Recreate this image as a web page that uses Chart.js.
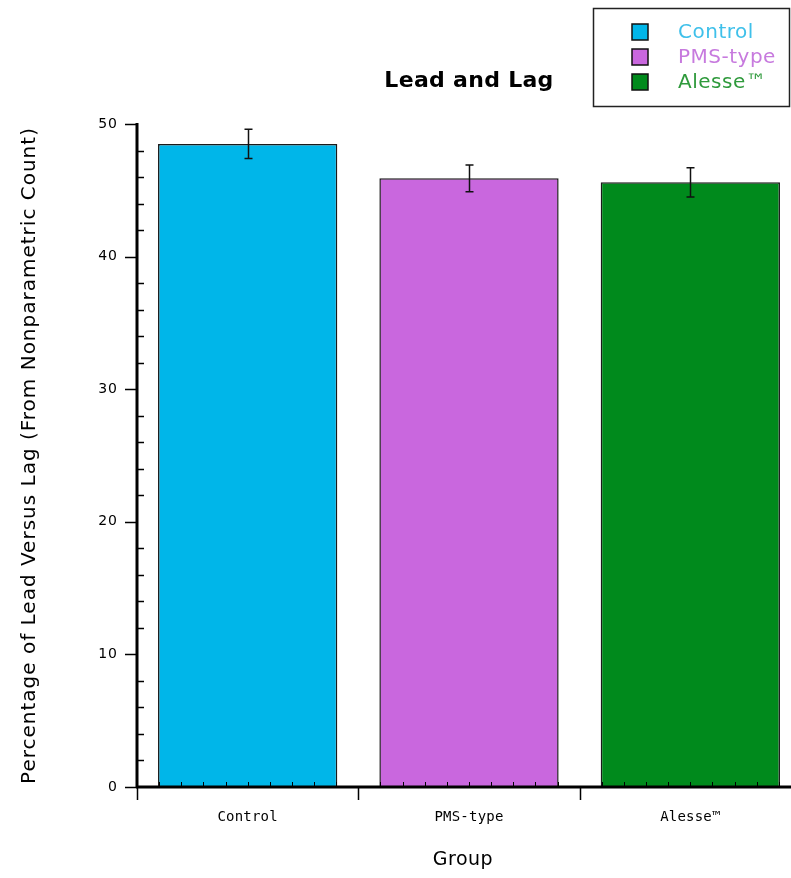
<!DOCTYPE html>
<html>
<head>
<meta charset="utf-8">
<script src="https://cdn.jsdelivr.net/npm/chart.js@4"></script>
<style>
  html, body { margin: 0; padding: 0; background: #fff; overflow: hidden; }
  #wrap { width: 805px; height: 878px; position: relative; }
</style>
</head>
<body>
<div id="wrap"><canvas id="c" width="805" height="878"></canvas></div>
<script>
// Group means with standard-error half widths
const groups = ['Control', 'PMS-type', 'Alesse\u2122'];
const means = [48.5, 45.9, 45.6];
const errors = [1.1, 1.0, 1.1];
const yTicks = [0, 10, 20, 30, 40, 50];
const barColors = ['#00b6e9', '#c967de', '#008a1c'];
const legendTextColors = ['#3fc0ea', '#c77ade', '#2f9a3c'];

const chartTitle = 'Lead and Lag';
const xTitle = 'Group';
const yTitle = 'Percentage of Lead Versus Lag (From Nonparametric Count)';

const axisPlugin = {
  id: 'classicAxes',
  afterDatasetsDraw(chart) {
    const ctx = chart.ctx;
    const x = chart.scales.x, y = chart.scales.y;
    const area = chart.chartArea;
    const y0 = y.getPixelForValue(0);
    ctx.save();

    // error bars
    const meta = chart.getDatasetMeta(0);
    ctx.strokeStyle = '#111';
    ctx.lineWidth = 1.5;
    meta.data.forEach((bar, i) => {
      const cx = Math.round(bar.x) + 0.5;
      const hi = y.getPixelForValue(means[i] + errors[i]);
      const lo = y.getPixelForValue(means[i] - errors[i]);
      ctx.beginPath();
      ctx.moveTo(cx, hi); ctx.lineTo(cx, lo);
      ctx.moveTo(cx - 4, hi); ctx.lineTo(cx + 4, hi);
      ctx.moveTo(cx - 4, lo); ctx.lineTo(cx + 4, lo);
      ctx.stroke();
    });

    // y axis line with major ticks outside, minor ticks inside
    ctx.strokeStyle = '#000';
    ctx.lineWidth = 3;
    ctx.beginPath();
    ctx.moveTo(area.left, y.getPixelForValue(50) - 1);
    ctx.lineTo(area.left, y0 + 1);
    ctx.stroke();
    ctx.lineWidth = 1.5;
    ctx.beginPath();
    for (let v = 0; v <= 50; v += 2) {
      const py = Math.round(y.getPixelForValue(v)) + 0.5;
      if (v % 10 === 0) {
        ctx.moveTo(area.left - 12, py); ctx.lineTo(area.left, py);
      } else {
        ctx.moveTo(area.left, py); ctx.lineTo(area.left + 7, py);
      }
    }
    ctx.stroke();

    // y tick labels
    ctx.fillStyle = '#000';
    ctx.font = '14px "DejaVu Sans"';
    ctx.letterSpacing = '1px';
    ctx.textAlign = 'right';
    ctx.textBaseline = 'middle';
    yTicks.forEach(v => {
      ctx.fillText(String(v), area.left - 19, y.getPixelForValue(v));
    });

    // x axis line
    ctx.lineWidth = 3;
    ctx.beginPath();
    ctx.moveTo(area.left - 1, y0);
    ctx.lineTo(area.right + 4, y0);
    ctx.stroke();

    // category boundary ticks (down) and minor ticks (up)
    const step = (x.getPixelForValue(1) - x.getPixelForValue(0));
    ctx.lineWidth = 1.5;
    ctx.beginPath();
    for (let i = 0; i <= groups.length; i++) {
      const bx = Math.round(x.getPixelForValue(i) - step / 2) + 0.5;
      ctx.moveTo(bx, y0); ctx.lineTo(bx, y0 + 13);
    }
    ctx.stroke();
    ctx.lineWidth = 1;
    ctx.beginPath();
    for (let i = 0; i < groups.length; i++) {
      const start = x.getPixelForValue(i) - step / 2;
      for (let k = 1; k < 10; k++) {
        const mx = Math.round(start + k * step / 10) + 0.5;
        ctx.moveTo(mx, y0); ctx.lineTo(mx, y0 - 5);
      }
    }
    ctx.stroke();

    // category labels
    ctx.font = '14px "DejaVu Sans Mono"';
    ctx.letterSpacing = '0.2px';
    ctx.textAlign = 'center';
    ctx.textBaseline = 'middle';
    groups.forEach((g, i) => {
      ctx.fillText(g, x.getPixelForValue(i), y0 + 30);
    });

    // axis titles
    ctx.font = '19px "DejaVu Sans"';
    ctx.letterSpacing = '0.5px';
    ctx.fillText(xTitle, (area.left + area.right) / 2 - 6, 860);
    ctx.save();
    ctx.translate(30, (area.top + area.bottom) / 2);
    ctx.rotate(-Math.PI / 2);
    ctx.font = '20px "DejaVu Sans"';
    ctx.letterSpacing = '1px';
    ctx.fillText(yTitle, 0, 0);
    ctx.restore();

    // chart title
    ctx.font = 'bold 22px "DejaVu Sans"';
    ctx.letterSpacing = '0.3px';
    ctx.fillText(chartTitle, (area.left + area.right) / 2, 81);

    // legend box
    ctx.lineWidth = 1.5;
    ctx.strokeStyle = '#222';
    ctx.strokeRect(593.5, 8.5, 196, 98);
    ctx.textAlign = 'left';
    ctx.font = '20px "DejaVu Sans"';
    ctx.letterSpacing = '0.5px';
    groups.forEach((g, i) => {
      const cy = 32 + i * 25;
      ctx.fillStyle = barColors[i];
      ctx.fillRect(632, cy - 8, 16, 16);
      ctx.strokeStyle = '#111';
      ctx.lineWidth = 1.5;
      ctx.strokeRect(632, cy - 8, 16, 16);
      ctx.fillStyle = legendTextColors[i];
      ctx.fillText(g, 678, cy + 1);
    });

    ctx.restore();
  }
};

new Chart(document.getElementById('c'), {
  type: 'bar',
  data: {
    labels: groups,
    datasets: [{
      data: means,
      backgroundColor: barColors,
      borderColor: '#1a1a1a',
      borderWidth: 1.5,
      borderSkipped: 'bottom',
      categoryPercentage: 1.0,
      barPercentage: 0.81
    }]
  },
  options: {
    responsive: false,
    animation: false,
    layout: { padding: { left: 137, right: 4, top: 124, bottom: 91 } },
    plugins: { legend: { display: false }, title: { display: false }, tooltip: { enabled: false } },
    scales: {
      x: { display: false },
      y: { display: false, min: 0, max: 50 }
    }
  },
  plugins: [axisPlugin]
});
</script>
</body>
</html>
